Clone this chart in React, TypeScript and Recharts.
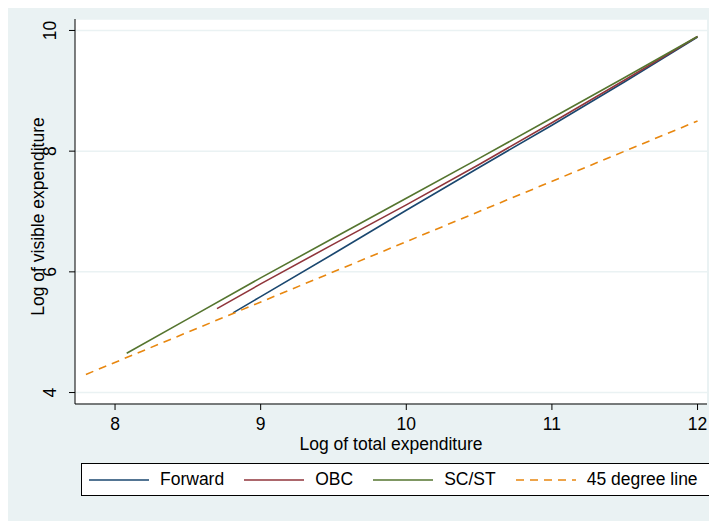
import React from "react"
import { LineChart, Line, XAxis, YAxis, CartesianGrid } from "recharts"

const forwardX = [8.81, 9.0, 9.5, 10.0, 10.5, 11.0, 11.5, 12.0]
const forwardY = [5.32, 5.59, 6.3, 7.02, 7.73, 8.43, 9.15, 9.89]

const obcX = [8.7, 9.0, 9.5, 10.0, 10.5, 11.0, 11.5, 12.0]
const obcY = [5.39, 5.8, 6.46, 7.11, 7.78, 8.47, 9.18, 9.9]

const scstX = [8.08, 8.5, 9.0, 9.5, 10.0, 10.5, 11.0, 11.5, 12.0]
const scstY = [4.65, 5.22, 5.9, 6.56, 7.22, 7.88, 8.55, 9.22, 9.9]

const lineX = [7.8, 12.0]
const lineY = [4.3, 8.5]

const xTicks = [8, 9, 10, 11, 12]
const yTicks = [4, 6, 8, 10]

const seriesNames = ["Forward", "OBC", "SC/ST", "45 degree line"]
const seriesColors = ["#1a476f", "#90353b", "#55752f", "#e8870f"]

const zip = (xs: number[], ys: number[]) => xs.map((x, i) => ({ x, y: ys[i] }))

const FONT = "'Liberation Sans', Arial, sans-serif"
const FS = 17.5
const BG = "#eaf2f3"

function XTick(props: any) {
  const { x, y, payload } = props
  return (
    <text x={x} y={y + 18} textAnchor="middle" fontSize={FS} fontFamily={FONT} fill="#000">
      {payload.value}
    </text>
  )
}

function YTick(props: any) {
  const { x, y, payload } = props
  return (
    <text
      x={x - 11}
      y={y}
      transform={`rotate(-90 ${x - 11} ${y})`}
      textAnchor="middle"
      fontSize={FS}
      fontFamily={FONT}
      fill="#000"
    >
      {payload.value}
    </text>
  )
}

function LegendBox() {
  return (
    <div
      style={{
        position: "absolute",
        left: 73,
        top: 461,
        width: 620,
        height: 31,
        background: "#fff",
        border: "1px solid #000",
        display: "flex",
        alignItems: "center",
        paddingLeft: 7,
        gap: 20,
        fontFamily: FONT,
        fontSize: FS,
        whiteSpace: "nowrap",
      }}
    >
      {seriesNames.map((name, i) => (
        <div key={name} style={{ display: "flex", alignItems: "center", gap: 11 }}>
          <svg width={60} height={4}>
            <line
              x1={0}
              x2={60}
              y1={2}
              y2={2}
              stroke={seriesColors[i]}
              strokeWidth={1.6}
              strokeDasharray={i === 3 ? "8 6" : undefined}
            />
          </svg>
          <span>{name}</span>
        </div>
      ))}
    </div>
  )
}

export default function App() {
  return (
    <div style={{ position: "relative", marginTop: -6, width: 709, height: 519, background: BG }}>
      <LineChart width={709} height={519} margin={{ top: 17, right: 10, bottom: 67, left: 0 }}>
        <CartesianGrid horizontal vertical={false} fill="#fff" stroke={BG} strokeWidth={1.5} />
        <XAxis
          type="number"
          dataKey="x"
          domain={[7.725, 12.065]}
          ticks={xTicks}
          allowDataOverflow
          height={50}
          stroke="#000"
          tickSize={6}
          tick={<XTick />}
          label={{
            content: (p: any) => {
              const vb = p.viewBox
              return (
                <text x={vb.x + vb.width / 2} y={vb.y + 46} textAnchor="middle" fontSize={FS} fontFamily={FONT} fill="#000">
                  Log of total expenditure
                </text>
              )
            },
          }}
        />
        <YAxis
          type="number"
          dataKey="y"
          domain={[3.81, 10.19]}
          ticks={yTicks}
          allowDataOverflow
          width={67}
          stroke="#000"
          tickSize={6}
          tick={<YTick />}
          label={{
            content: (p: any) => {
              const vb = p.viewBox
              const cx = vb.x + 36
              const cy = vb.y + vb.height / 2 + 5
              return (
                <text x={cx} y={cy} transform={`rotate(-90 ${cx} ${cy})`} textAnchor="middle" fontSize={FS} fontFamily={FONT} fill="#000">
                  Log of visible expenditure
                </text>
              )
            },
          }}
        />
        <Line data={zip(forwardX, forwardY)} dataKey="y" stroke={seriesColors[0]} strokeWidth={1.6} dot={false} isAnimationActive={false} />
        <Line data={zip(obcX, obcY)} dataKey="y" stroke={seriesColors[1]} strokeWidth={1.6} dot={false} isAnimationActive={false} />
        <Line data={zip(scstX, scstY)} dataKey="y" stroke={seriesColors[2]} strokeWidth={1.6} dot={false} isAnimationActive={false} />
        <Line data={zip(lineX, lineY)} dataKey="y" stroke={seriesColors[3]} strokeWidth={1.6} strokeDasharray="8 6" dot={false} isAnimationActive={false} />
      </LineChart>
      <LegendBox />
    </div>
  )
}
